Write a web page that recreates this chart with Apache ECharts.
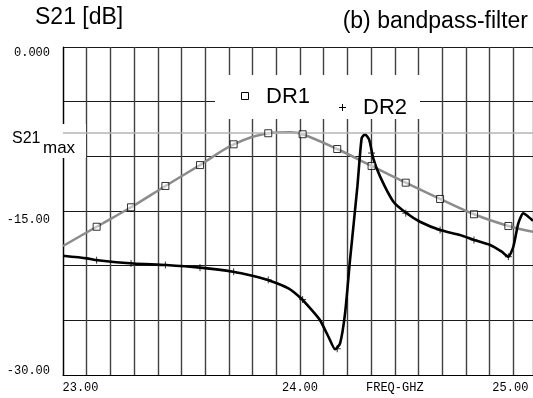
<!DOCTYPE html>
<html><head><meta charset="utf-8">
<script src="https://cdn.jsdelivr.net/npm/echarts@6/dist/echarts.min.js"></script>
<style>html,body{margin:0;padding:0;background:#fff}#c{width:533px;height:398px}</style>
</head><body><div id="c"></div>
<script>
// ---- tick labels ----
const xTickLabels = [[23.0, '23.00'], [24.0, '24.00'], [24.4, 'FREQ-GHZ'], [24.9, '25.00']];
const yTickLabels = [[0, '0.000'], [-15, '-15.00'], [-30, '-30.00']];
const s21Max = -7.87;

// ---- DR1 (gray curve) ----
const dr1Freq = [23.0, 23.142, 23.287, 23.432, 23.578, 23.720, 23.866, 23.96, 24.011, 24.157, 24.302, 24.446, 24.591, 24.734, 24.879, 24.983];
const dr1Val  = [-18.2, -16.44, -14.66, -12.71, -10.80, -8.90, -7.89, -7.80, -7.98, -9.33, -10.88, -12.41, -13.90, -15.30, -16.37, -16.9];

// ---- marker frequencies ----
const markFreq = [23.142, 23.287, 23.432, 23.578, 23.720, 23.866, 24.011, 24.157, 24.302, 24.446, 24.591, 24.734, 24.879];
const dr1MarkVal = [-16.44, -14.66, -12.71, -10.80, -8.90, -7.89, -7.98, -9.33, -10.88, -12.41, -13.90, -15.30, -16.37];
const dr2MarkVal = [-19.5, -19.8, -19.94, -20.18, -20.55, -21.3, -23.1, -27.6, -9.7, -15.2, -16.74, -17.65, -19.18];

// ---- DR2 (black curve) ----
const dr2Freq = [23.0, 23.1, 23.146, 23.297, 23.435, 23.578, 23.718, 23.803, 23.870, 23.951, 24.005, 24.049, 24.084, 24.120, 24.148, 24.169, 24.190, 24.211, 24.242, 24.260, 24.274, 24.292, 24.309, 24.338, 24.394, 24.450, 24.506, 24.591, 24.675, 24.734, 24.802, 24.851, 24.879, 24.900, 24.921, 24.942, 24.963, 24.983];
const dr2Val  = [-19.1, -19.33, -19.5, -19.8, -19.94, -20.18, -20.55, -20.95, -21.35, -22.07, -23.0, -24.05, -24.97, -26.5, -27.65, -27.1, -24.36, -19.48, -12.78, -8.35, -7.98, -8.5, -10.18, -11.86, -14.15, -15.21, -15.98, -16.74, -17.2, -17.65, -18.11, -18.72, -19.18, -18.27, -16.13, -15.21, -15.52, -15.89];

const zip = (a, b) => a.map((v, i) => [v, b[i]]);
const findLabel = (list, v) => { const f = list.find(p => Math.abs(p[0] - v) < 1e-6); return f ? f[1] : null; };

const chart = echarts.init(document.getElementById('c'), null, {renderer: 'canvas'});
const sans = 'Liberation Sans, Arial, sans-serif';
const mono = 'Liberation Mono, DejaVu Sans Mono, monospace';

chart.setOption({
  animation: false,
  backgroundColor: '#fff',
  grid: {left: 63, top: 47, right: 0, bottom: 23, containLabel: false},
  xAxis: {
    type: 'value', min: 23.0, max: 24.983, interval: 0.1,
    axisLine: {show: true, onZero: false, lineStyle: {color: '#000', width: 1.2}},
    axisTick: {show: false},
    splitLine: {show: true, lineStyle: {color: '#404040', width: 1.4}},
    axisLabel: {
      margin: 7, color: '#000', fontFamily: mono, fontSize: 12,
      showMinLabel: true, showMaxLabel: false,
      formatter: v => {
        const t = findLabel(xTickLabels, v);
        if (!t) return '';
        if (Math.abs(v - 23.0) < 1e-6) return '{l|' + t + '}';
        if (Math.abs(v - 24.9) < 1e-6) return '{r|' + t + '}';
        return '{n|' + t + '}';
      },
      rich: {
        l: {fontFamily: mono, fontSize: 12, color: '#000', padding: [0, 0, 0, 35]},
        r: {fontFamily: mono, fontSize: 12, color: '#000', padding: [0, 6, 0, 0]},
        n: {fontFamily: mono, fontSize: 12, color: '#000'}
      }
    }
  },
  yAxis: {
    type: 'value', min: -30, max: 0, interval: 5,
    axisLine: {show: true, lineStyle: {color: '#000', width: 1.2}},
    axisTick: {show: false},
    splitLine: {show: true, lineStyle: {color: '#1a1a1a', width: 1.2}},
    axisLabel: {
      margin: 13, color: '#000', fontFamily: mono, fontSize: 12,
      formatter: v => {
        const t = findLabel(yTickLabels, v);
        if (!t) return '';
        if (v === 0) return '{a|' + t + '}';
        if (v === -15) return '{b|' + t + '}';
        return '{c|' + t + '}';
      },
      rich: {
        a: {fontFamily: mono, fontSize: 12, color: '#000', padding: [12, 0, 0, 0]},
        b: {fontFamily: mono, fontSize: 12, color: '#000', padding: [18, 0, 0, 0]},
        c: {fontFamily: mono, fontSize: 12, color: '#000', padding: [0, 0, 8, 0]}
      }
    }
  },
  series: [
    {
      name: 'DR1', type: 'line', data: zip(dr1Freq, dr1Val), smooth: 0.35, showSymbol: false,
      lineStyle: {color: '#8c8c8c', width: 2.5}, z: 3,
      markLine: {
        silent: true, symbol: 'none', label: {show: false},
        lineStyle: {color: '#b4b4b4', width: 1.5, type: 'solid'},
        data: [{yAxis: s21Max}]
      }
    },
    {
      name: 'DR2', type: 'line', data: zip(dr2Freq, dr2Val), smooth: 0.2, showSymbol: false,
      lineStyle: {color: '#000', width: 2.6}, z: 4
    },
    {
      name: 'DR1 markers', type: 'scatter', data: zip(markFreq, dr1MarkVal),
      symbol: 'rect', symbolSize: 7,
      itemStyle: {color: 'rgba(255,255,255,0.6)', borderColor: '#000', borderWidth: 1}, z: 5
    },
    {
      name: 'DR2 markers', type: 'scatter', data: zip(markFreq, dr2MarkVal),
      symbol: 'path://M0,3L6,3M3,0L3,6', symbolSize: 7,
      itemStyle: {color: 'none', borderColor: '#000', borderWidth: 1}, z: 5
    }
  ],
  graphic: [
    {type: 'rect', shape: {x: 0, y: 124, width: 86, height: 34}, style: {fill: '#fff'}, z: 1},
    {type: 'text', x: 12, y: 139, z: 10, style: {text: 'S21', font: '16px ' + sans, fill: '#000', textVerticalAlign: 'middle'}},
    {type: 'text', x: 43, y: 148, z: 10, style: {text: 'max', font: '17px ' + sans, fill: '#000', textVerticalAlign: 'middle'}},
    {type: 'rect', shape: {x: 215, y: 75, width: 205, height: 44}, style: {fill: '#fff'}, z: 1},
    {type: 'rect', shape: {x: 241.5, y: 92.5, width: 7, height: 7}, style: {fill: '#fff', stroke: '#000', lineWidth: 1}, z: 10},
    {type: 'text', x: 266, y: 97, z: 10, style: {text: 'DR1', font: '22px ' + sans, fill: '#000', textVerticalAlign: 'middle'}},
    {type: 'line', shape: {x1: 339, y1: 107.5, x2: 346, y2: 107.5}, style: {stroke: '#000', lineWidth: 1}, z: 10},
    {type: 'line', shape: {x1: 342.5, y1: 104, x2: 342.5, y2: 111}, style: {stroke: '#000', lineWidth: 1}, z: 10},
    {type: 'text', x: 363, y: 108, z: 10, style: {text: 'DR2', font: '22px ' + sans, fill: '#000', textVerticalAlign: 'middle'}},
    {type: 'text', x: 35, y: 18, z: 10, style: {text: 'S21 [dB]', font: '23px ' + sans, fill: '#000', textVerticalAlign: 'middle'}},
    {type: 'text', x: 528, y: 22, z: 10, style: {text: '(b) bandpass-filter', font: '23px ' + sans, fill: '#000', textAlign: 'right', textVerticalAlign: 'middle'}}
  ]
});
</script>
</body></html>
